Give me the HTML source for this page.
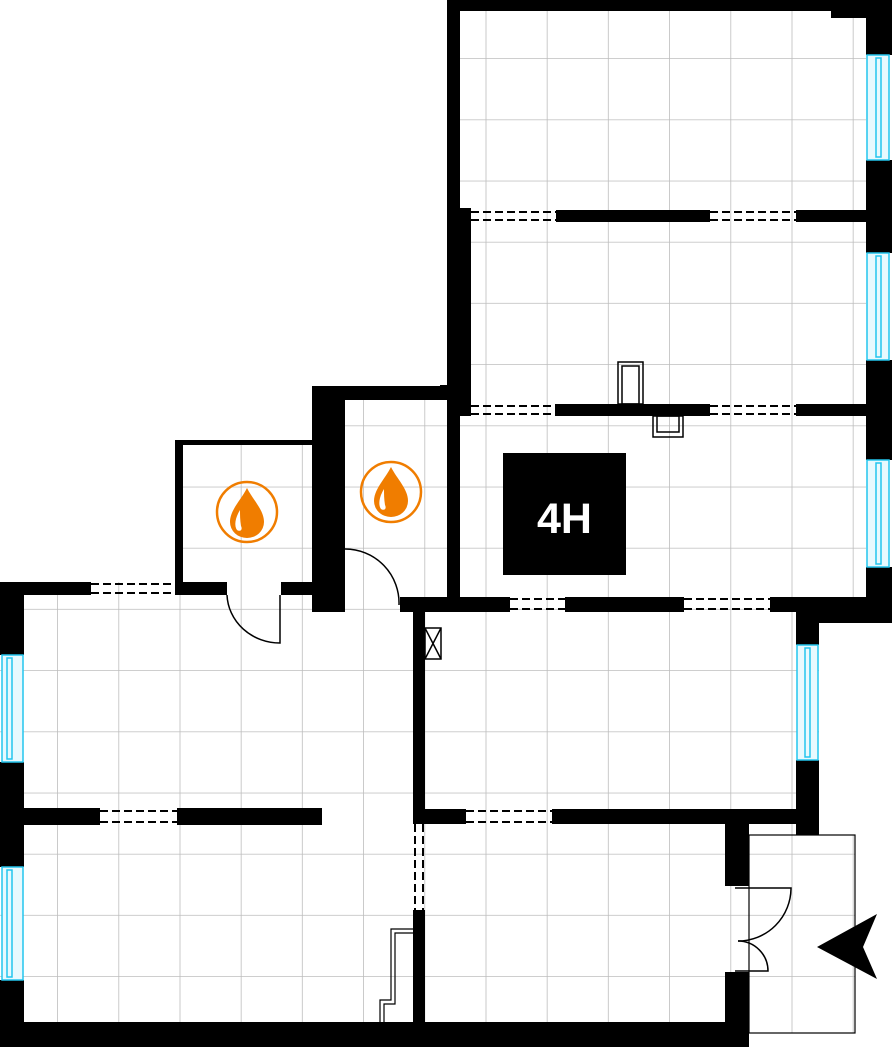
<!DOCTYPE html>
<html><head><meta charset="utf-8"><style>
html,body{margin:0;padding:0;background:#fff;}
svg{display:block;}
</style></head><body>
<svg width="892" height="1047" viewBox="0 0 892 1047" xmlns="http://www.w3.org/2000/svg">
<defs>
<clipPath id="room">
<path d="M447,0 H866 V600 H819 V835 H749 V1047 H0 V582 H176 V440 H312 V386 H447 Z"/>
<rect x="749" y="835" width="106" height="198"/>
</clipPath>
<pattern id="grid" x="-3.2" y="-2.2" width="61.2" height="61.2" patternUnits="userSpaceOnUse">
<path d="M61.2,0 V61.2 M0,61.2 H61.2" stroke="#bdbdbd" stroke-width="1.6" fill="none"/>
</pattern>
</defs>
<rect x="0" y="0" width="892" height="1047" fill="url(#grid)" clip-path="url(#room)"/>

<rect x="749" y="835" width="106" height="198" fill="none" stroke="#000" stroke-width="1.2"/>

<g fill="#000">
<rect x="447" y="0" width="445" height="11"/>
<rect x="831" y="11" width="61" height="7"/>
<rect x="866" y="0" width="26" height="55"/>
<rect x="866" y="160" width="26" height="93"/>
<rect x="866" y="360" width="26" height="100"/>
<rect x="866" y="567" width="26" height="45"/>
<rect x="447" y="0" width="13" height="611"/>
<rect x="447" y="208" width="24" height="208"/>
<rect x="440" y="385" width="10" height="15"/>
<rect x="556" y="210" width="154" height="12"/>
<rect x="796" y="210" width="70" height="12"/>
<rect x="555" y="404" width="155" height="12"/>
<rect x="796" y="404" width="70" height="12"/>
<rect x="400" y="597" width="110" height="15"/>
<rect x="565" y="597" width="119" height="15"/>
<rect x="770" y="597" width="122" height="15"/>
<rect x="796" y="597" width="96" height="26"/>
<rect x="796" y="597" width="23" height="48"/>
<rect x="796" y="760" width="23" height="75"/>
<rect x="413" y="809" width="53" height="15"/>
<rect x="552" y="809" width="267" height="15"/>
<rect x="725" y="809" width="24" height="77"/>
<rect x="725" y="972" width="24" height="75"/>
<rect x="413" y="597" width="12" height="212"/>
<rect x="413" y="910" width="12" height="113"/>
<rect x="0" y="1022" width="749" height="25"/>
<rect x="0" y="582" width="91" height="13"/>
<rect x="0" y="582" width="24" height="73"/>
<rect x="0" y="762" width="24" height="105"/>
<rect x="0" y="980" width="24" height="67"/>
<rect x="24" y="808" width="76" height="17"/>
<rect x="177" y="808" width="145" height="17"/>
<rect x="176" y="582" width="51" height="13"/>
<rect x="281" y="582" width="31" height="13"/>
<rect x="175" y="440" width="8" height="155"/>
<rect x="175" y="440" width="137" height="5"/>
<rect x="312" y="386" width="33" height="226"/>
<rect x="312" y="386" width="148" height="14"/>
<rect x="400" y="598" width="60" height="14"/>
<rect x="503" y="453" width="123" height="122"/>
</g>
<text x="564.5" y="533" fill="#fff" font-family="Liberation Sans, sans-serif" font-size="43" font-weight="bold" text-anchor="middle">4H</text>

<g stroke="#000" stroke-width="2" stroke-dasharray="8,4" fill="none">
<path d="M471,212 H556 M471,220 H556 M710,212 H796 M710,220 H796"/>
<path d="M471,406 H555 M471,414 H555 M710,406 H796 M710,414 H796"/>
<path d="M510,599 H565 M510,609 H565 M684,599 H770 M684,609 H770"/>
<path d="M466,811 H552 M466,822 H552"/>
<path d="M415,824 V910 M423,824 V910"/>
<path d="M91,584 H176 M91,593 H176"/>
<path d="M100,811 H177 M100,822 H177"/>
</g>

<g stroke="#22c5ee" stroke-width="1.5" fill="#e8f9fe">
<rect x="867" y="55" width="22" height="105"/><rect x="876" y="58" width="5" height="99"/>
<rect x="867" y="253" width="22" height="107"/><rect x="876" y="256" width="5" height="101"/>
<rect x="867" y="460" width="22" height="107"/><rect x="876" y="463" width="5" height="101"/>
<rect x="797" y="645" width="21" height="115"/><rect x="805" y="648" width="5" height="109"/>
<rect x="2" y="655" width="21" height="107"/><rect x="7" y="658" width="5" height="101"/>
<rect x="2" y="867" width="21" height="113"/><rect x="7" y="870" width="5" height="107"/>
</g>

<g stroke="#000" stroke-width="1.5" fill="none">
<path d="M227,595 A53,50 0 0 0 280,643 V595"/>
<path d="M345,549 A54,54 0 0 1 399,605"/>
<path d="M735,888 H791 A53,53 0 0 1 738,941"/>
<path d="M735,971 H768 A30,30 0 0 0 738,941"/>
<rect x="618" y="362" width="25" height="42"/>
<rect x="622" y="366" width="17" height="38"/>
<rect x="653" y="416" width="30" height="21"/>
<rect x="657" y="416" width="22" height="16"/>
<rect x="425" y="628" width="16" height="31"/>
<path d="M425,628 L441,659 M441,628 L425,659"/>
</g>
<g stroke="#000" stroke-width="1.2" fill="none">
<path d="M413,929 H391 V1000 H380 V1023"/>
<path d="M413,933 H395 V1004 H384 V1023"/>
</g>

<polygon points="817,947 877,914 863,947 877,979" fill="#000"/>

<g>
<circle cx="247" cy="512" r="30" fill="none" stroke="#f07d00" stroke-width="2.5"/>
<path d="M247,488 C253,500 264,510 264,522 A17,16 0 0 1 230,522 C230,510 241,500 247,488 Z" fill="#f07d00"/>
<path d="M240,510 C235,518 234,526 237,530 C240,532 243,530 241,526 C240,520 240,515 240,510 Z" fill="#fff"/>
<circle cx="391" cy="492" r="30" fill="none" stroke="#f07d00" stroke-width="2.5"/>
<path d="M391,467 C397,479 408,489 408,501 A17,16 0 0 1 374,501 C374,489 385,479 391,467 Z" fill="#f07d00"/>
<path d="M384,489 C379,497 378,505 381,509 C384,511 387,509 385,505 C384,499 384,494 384,489 Z" fill="#fff"/>
</g>
</svg>
</body></html>
